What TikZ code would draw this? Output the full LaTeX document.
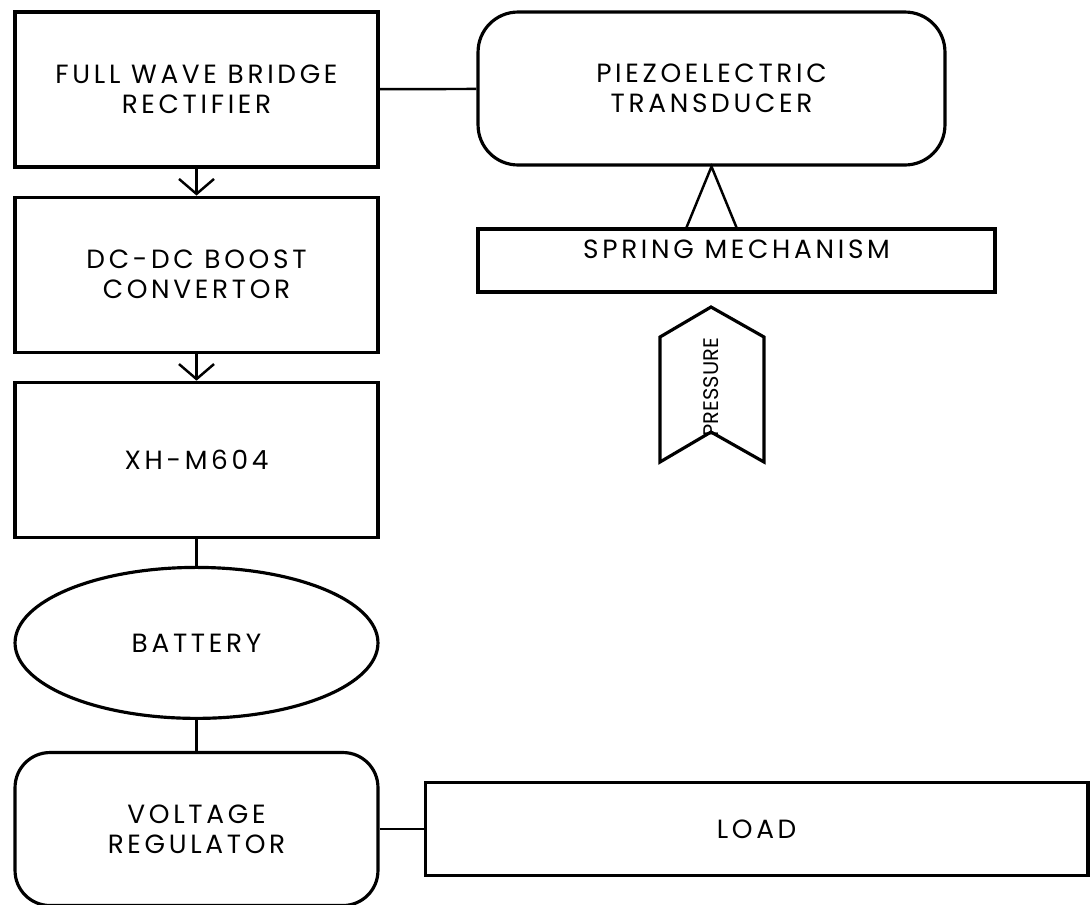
\documentclass[tikz,border=0pt]{standalone}
\usepackage{fontspec}
\setmainfont[LetterSpace=14]{Poppins}
\usetikzlibrary{positioning,shapes.geometric,arrows.meta}

\begin{document}
\begin{tikzpicture}[
x=0.02cm, y=-0.02cm,
every node/.style={font=\fontsize{15}{17}\selectfont, align=center},
block/.style={draw, line width=1.8pt, minimum width=7.26cm, minimum height=3.1cm},
roundblock/.style={block, rounded corners=0.75cm},
link/.style={line width=1.4pt},
flow/.style={link, -{Straight Barb[length=0.3cm, width=0.7cm, line width=1.4pt]}}
]
\useasboundingbox (0,0) rectangle (1091,904);

% left column
\node[block] (rect) at (196.5,89.5) {FULL WAVE BRIDGE\\RECTIFIER};
\node[block, below=0.54cm of rect] (boost) {DC-DC BOOST\\CONVERTOR};
\node[block, below=0.54cm of boost] (xh) {XH-M604};
\node[block, ellipse, minimum height=3.02cm, below=0.54cm of xh] (bat) {BATTERY};
\node[roundblock, minimum height=3.06cm, rounded corners=0.7cm, below=0.62cm of bat] (reg) {VOLTAGE\\REGULATOR};
\node[block, minimum width=13.26cm, minimum height=1.86cm, right=0.88cm of reg] (load) {LOAD};

% right column
\node[roundblock, minimum width=9.34cm, minimum height=3.06cm, rounded corners=0.8cm] (piezo) at (711.5,88.5) {PIEZOELECTRIC\\TRANSDUCER};
\node[block, minimum width=10.34cm, minimum height=1.26cm,
  label={[anchor=north, yshift=-0.12cm]north:SPRING MECHANISM}] (spring) at (736.5,260.5) {};

% pressure
\draw[line width=1.8pt] (711,307) -- (764,337) -- (764,462) -- (711,432) -- (660,462) -- (660,337) -- cycle;
\node[rotate=90, font=\fontspec{Poppins}\fontsize{12}{14}\selectfont] (press) at (711,387) {PRESSURE};

% connections
\draw[flow] (rect) -- (boost);
\draw[flow] (boost) -- (xh);
\draw[link] (xh) -- (bat);
\draw[link] (bat) -- (reg);
\draw[link] (reg) -- (load);
\draw[link] (rect) -- (piezo);
\draw[link] ([xshift=-0.5cm]piezo.south |- spring.north) -- (piezo.south) -- ([xshift=0.5cm]piezo.south |- spring.north);

\end{tikzpicture}
\end{document}
